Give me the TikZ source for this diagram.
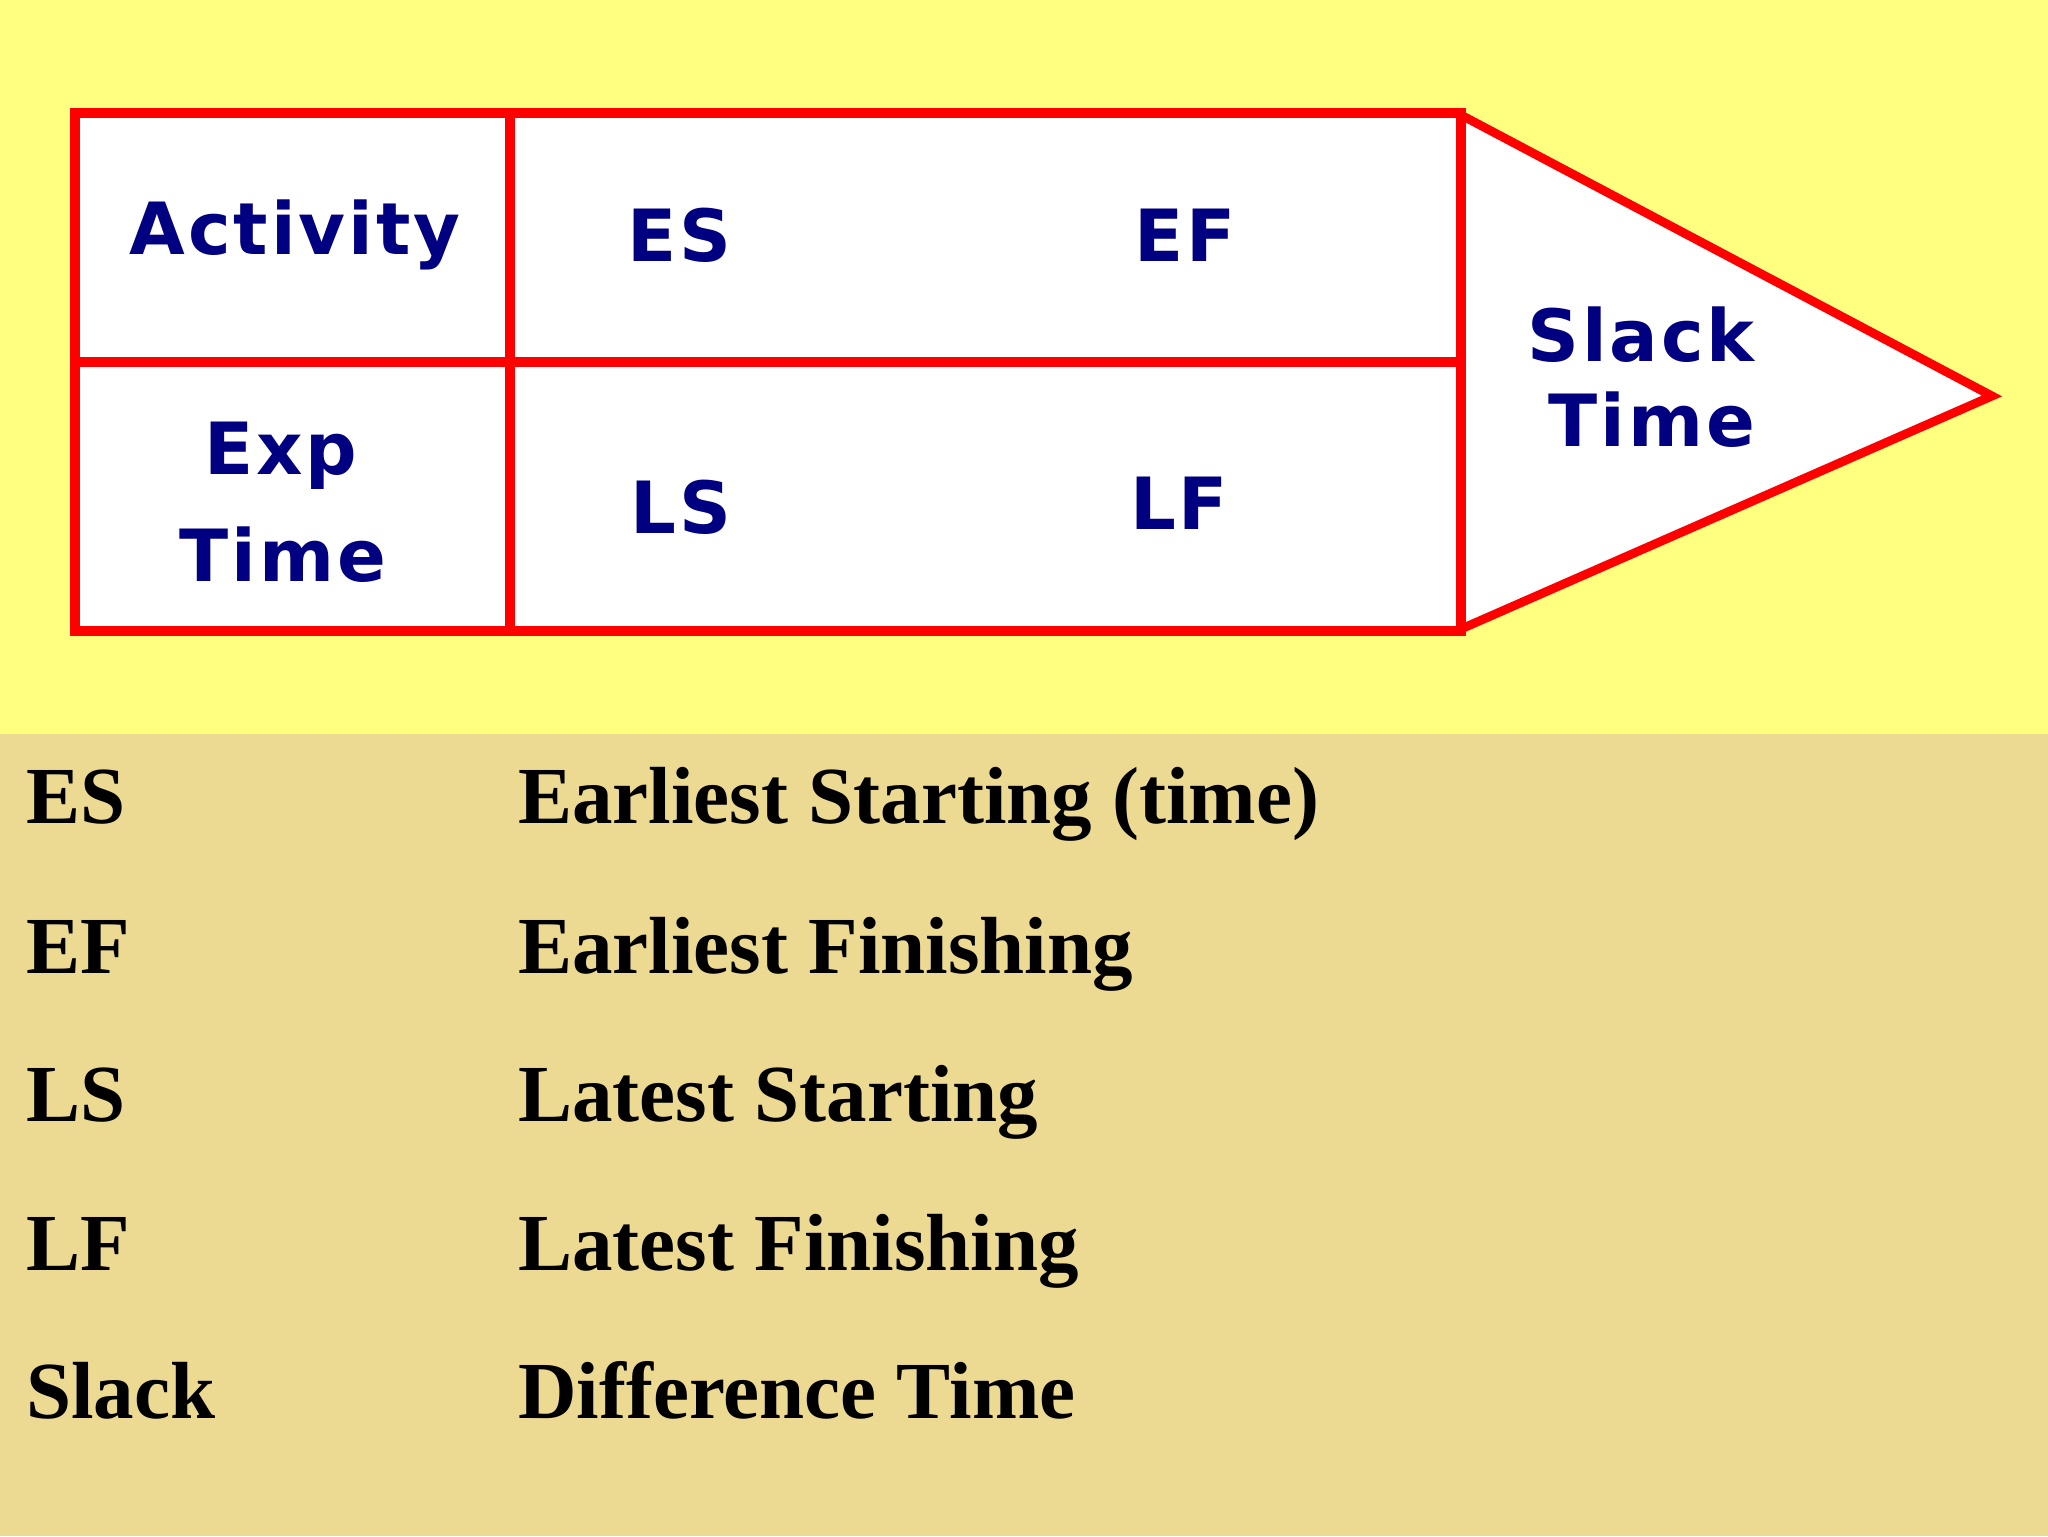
\documentclass[tikz,border=0pt]{standalone}
\usepackage{fontspec}
\setmainfont{Liberation Serif}
\newfontfamily\boxfont[LetterSpace=4]{DejaVu Sans}
\definecolor{yellowbg}{RGB}{255,255,128}
\definecolor{tanbg}{RGB}{236,217,146}
\definecolor{navytext}{RGB}{0,0,128}
\definecolor{redline}{RGB}{255,0,0}
\tikzset{
  cellborder/.style={draw=redline, line width=4.6pt, fill=white},
  celllabel/.style={anchor=base, inner sep=0pt, text=navytext, font=\boxfont\bfseries\fontsize{36}{52}\selectfont, align=center},
  legendkey/.style={anchor=base west, inner sep=0pt, text=black, font=\bfseries\fontsize{40.5}{48}\selectfont},
}
\begin{document}
\begin{tikzpicture}[x=0.5pt,y=-0.5pt]
\useasboundingbox (0,0) rectangle (2048,1536);
\fill[yellowbg] (0,0) rectangle (2048,734);
\fill[tanbg] (0,734) rectangle (2048,1536);
% pointer triangle
\draw[cellborder, line width=4.4pt, line join=miter] (1461,115) -- (1992,396) -- (1461,629) -- cycle;
% box
\draw[cellborder] (75,113) rectangle (1461,631);
\draw[draw=redline, line width=4.6pt] (75,362) -- (1461,362);
\draw[draw=redline, line width=4.6pt] (510,108) -- (510,636);
% cell labels
\node[celllabel] (activity) at (295,254) {Activity};
\node[celllabel] (exp) at (281,474) {Exp};
\node[celllabel] (exptime) at (283,581) {Time};
\node[celllabel] (es) at (679,261) {ES};
\node[celllabel] (ef) at (1185,261) {EF};
\node[celllabel] (ls) at (681,533) {LS};
\node[celllabel] (lf) at (1179,529) {LF};
\node[celllabel] (slack) at (1641,361) {Slack};
\node[celllabel] (slacktime) at (1652,446) {Time};
% legend
\node[legendkey] (kes) at (26,823) {ES};
\node[legendkey] (des) at (518,823) {Earliest Starting (time)};
\node[legendkey] (kef) at (26,973) {EF};
\node[legendkey] (def) at (518,973) {Earliest Finishing};
\node[legendkey] (kls) at (26,1121) {LS};
\node[legendkey] (dls) at (518,1121) {Latest Starting};
\node[legendkey] (klf) at (26,1270) {LF};
\node[legendkey] (dlf) at (518,1270) {Latest Finishing};
\node[legendkey] (ksl) at (26,1418) {Slack};
\node[legendkey] (dsl) at (518,1418) {Difference Time};
\end{tikzpicture}
\end{document}
